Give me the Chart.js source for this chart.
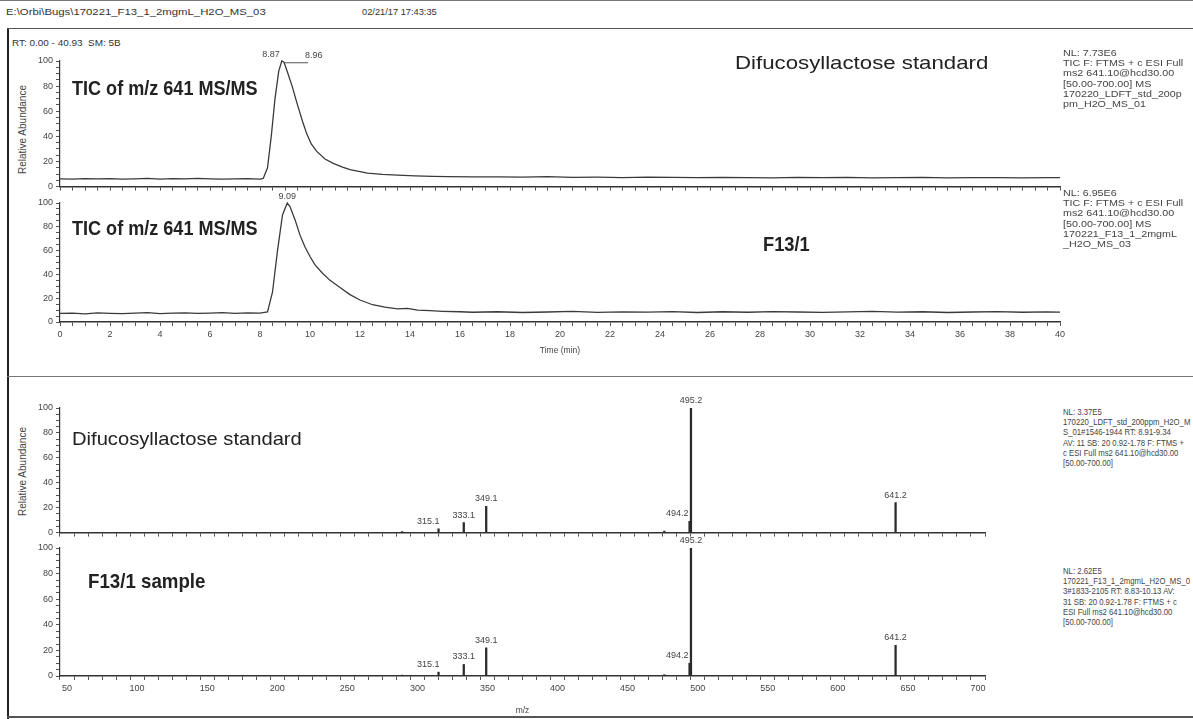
<!DOCTYPE html>
<html>
<head>
<meta charset="utf-8">
<script src="https://cdn.jsdelivr.net/npm/chart.js@4.4.1/dist/chart.umd.min.js"></script>
<style>
  html, body { margin: 0; padding: 0; background: #fff; }
  body { width: 1193px; height: 719px; position: relative; overflow: hidden;
         font-family: "Liberation Sans", Arial, sans-serif; color: #333; }
  canvas { position: absolute; left: 0; }
  .t { position: absolute; white-space: nowrap; line-height: 1; transform-origin: 0 0; }
  .info { position: absolute; left: 1063px; font-size: 9.5px; line-height: 10.2px; color: #444;
          white-space: nowrap; transform-origin: 0 0; }
  .bignote { font-weight: bold; color: #222; }
  .note { color: #222; }
  .rule { position: absolute; background: #222; }
  .ylab { position: absolute; font-size: 10px; color: #444; transform: rotate(-90deg); transform-origin: center; white-space: nowrap; }
</style>
</head>
<body>

<!-- frame and header -->
<div class="rule" style="left:0;top:0;width:1193px;height:1px;background:#777"></div>
<div class="rule" style="left:7px;top:28px;width:2px;height:691px"></div>
<div class="rule" style="left:7px;top:28px;width:1186px;height:1px;background:#555"></div>
<div class="rule" style="left:7px;top:376px;width:1186px;height:1px;background:#777"></div>
<div class="rule" style="left:7px;top:716px;width:1186px;height:2px;background:#555"></div>

<div class="t" style="left:6px;top:8px;font-size:9px;transform:scaleX(1.26)">E:\Orbi\Bugs\170221_F13_1_2mgmL_H2O_MS_03</div>
<div class="t" style="left:362px;top:8px;font-size:9px;transform:scaleX(1.03)">02/21/17 17:43:35</div>
<div class="t" style="left:12px;top:39px;font-size:8.5px;transform:scaleX(1.17)">RT: 0.00 - 40.93&nbsp;&nbsp;SM: 5B</div>

<div class="ylab" style="left:-28px;top:124px;width:100px;text-align:center">Relative Abundance</div>
<div class="ylab" style="left:-28px;top:466px;width:100px;text-align:center">Relative Abundance</div>

<canvas id="ticStd" width="1070" height="155" style="top:40px"></canvas>
<canvas id="ticSmp" width="1070" height="166" style="top:190px"></canvas>
<canvas id="msStd" width="995" height="156" style="top:385px"></canvas>
<canvas id="msSmp" width="995" height="186" style="top:530px"></canvas>

<!-- panel notes -->
<div class="t bignote" style="left:72px;top:77px;font-size:21px;transform:scaleX(0.86)">TIC of m/z 641 MS/MS</div>
<div class="t note" style="left:735px;top:53px;font-size:19px;transform:scaleX(1.17)">Difucosyllactose standard</div>
<div class="t bignote" style="left:72px;top:217px;font-size:21px;transform:scaleX(0.86)">TIC of m/z 641 MS/MS</div>
<div class="t bignote" style="left:763px;top:233px;font-size:21px;transform:scaleX(0.87)">F13/1</div>
<div class="t note" style="left:72px;top:430px;font-size:18.5px;transform:scaleX(1.09)">Difucosyllactose standard</div>
<div class="t bignote" style="left:88px;top:570px;font-size:21px;transform:scaleX(0.89)">F13/1 sample</div>

<!-- scan headers -->
<div class="info" style="top:48px;transform:scaleX(1.13)">NL: 7.73E6<br>TIC F: FTMS + c ESI Full<br>ms2 641.10@hcd30.00<br>[50.00-700.00] MS<br>170220_LDFT_std_200p<br>pm_H2O_MS_01</div>
<div class="info" style="top:188px;transform:scaleX(1.13)">NL: 6.95E6<br>TIC F: FTMS + c ESI Full<br>ms2 641.10@hcd30.00<br>[50.00-700.00] MS<br>170221_F13_1_2mgmL<br>_H2O_MS_03</div>
<div class="info" style="top:407px;font-size:9px;transform:scaleX(0.86)">NL: 3.37E5<br>170220_LDFT_std_200ppm_H2O_M<br>S_01#1546-1944 RT: 8.91-9.34<br>AV: 11 SB: 20 0.92-1.78 F: FTMS +<br>c ESI Full ms2 641.10@hcd30.00<br>[50.00-700.00]</div>
<div class="info" style="top:566px;font-size:9px;transform:scaleX(0.86)">NL: 2.62E5<br>170221_F13_1_2mgmL_H2O_MS_0<br>3#1833-2105 RT: 8.83-10.13 AV:<br>31 SB: 20 0.92-1.78 F: FTMS + c<br>ESI Full ms2 641.10@hcd30.00<br>[50.00-700.00]</div>

<script>
// ---- chromatogram: TIC of m/z 641 MS/MS, retention time (min) vs relative abundance (%) ----
const stdTimes = [0,0.5,1,1.5,2,2.5,3,3.5,4,4.5,5,5.5,6,6.5,7,7.5,8,
  8.13,8.3,8.45,8.6,8.75,8.87,8.96,9.1,9.3,9.47,9.7,9.87,10.05,10.27,10.6,10.93,11.3,11.6,12,12.3,12.9,13.5,14.2,14.9,15.5,16.5,
  17.5,18.5,19.5,20.5,21.5,22.5,23.5,24.5,25.5,26.5,27.5,28.5,29.5,30.5,31.5,32.5,33.5,34.5,35.5,36.5,37.5,38.5,39.5,40];
const stdAbundance = [6.2,6.0,6.4,6.1,6.3,5.9,6.2,6.5,6.0,6.3,6.1,6.6,6.2,5.9,6.1,6.3,6.0,
  6.5,15,40,70,92,100,99,91,79,67,52,42,34,28,22,18.5,15.5,13.5,12,10.8,9.8,9.2,8.6,8.2,8.0,7.8,
  7.7,7.6,7.9,7.4,7.5,7.2,7.6,7.3,7.1,7.4,7.2,7.0,7.3,7.1,7.4,7.0,7.2,7.3,6.9,7.1,7.2,7.0,7.1,7.2];
const stdPeakTimes = [8.87, 8.96];

const smpTimes = [0,0.5,1,1.5,2,2.5,3,3.5,4,4.5,5,5.5,6,6.5,7,7.5,8,
  8.3,8.5,8.7,8.9,9.09,9.2,9.4,9.6,9.8,10,10.2,10.5,10.8,11.2,11.6,12,12.5,13,13.5,13.9,14.3,14.8,15.3,16,
  16.5,17.5,18.5,19.5,20.5,21.5,22.5,23.5,24.5,25.5,26.5,27.5,28.5,29.5,30.5,31.5,32.5,33.5,34.5,35.5,36.5,37.5,38.5,39.5,40];
const smpAbundance = [7.2,7.4,6.9,7.6,7.3,7.0,7.5,7.8,7.1,7.4,7.7,7.2,7.5,7.9,7.3,7.6,7.4,
  8.5,25,60,90,100,97,86,73,63,55,48,41,35,29,23,18.5,14.5,12.5,11,11.5,10,9.5,9,8.6,
  8.2,8.6,8.0,8.4,8.9,8.1,8.5,8.3,8.8,8.0,8.6,8.2,8.7,8.4,8.1,8.5,8.9,8.3,8.6,8.0,8.4,8.8,8.2,8.5,8.3];
const smpPeakTimes = [9.09];

const timeTickLabels = [0,2,4,6,8,10,12,14,16,18,20,22,24,26,28,30,32,34,36,38,40];

// ---- MS/MS spectra of m/z 641: fragment m/z vs relative abundance (%) ----
const stdMz = [289.1, 315.1, 333.1, 349.1, 476.2, 494.2, 495.2, 641.2];
const stdIntensity = [0.8, 3, 8, 21, 1.2, 9, 100, 24];
const smpMz = [289.1, 315.1, 333.1, 349.1, 476.2, 494.2, 495.2, 641.2];
const smpIntensity = [0.7, 3, 9, 22, 1.0, 10, 100, 24];
const labeledMz = [315.1, 333.1, 349.1, 494.2, 495.2, 641.2];
const mzTickLabels = [50,100,150,200,250,300,350,400,450,500,550,600,650,700];

const abundanceTickLabels = [0,20,40,60,80,100];

const FONT = '"Liberation Sans", Arial, sans-serif';
const INK = '#333';

// annotates peaks with their x value, optionally with a short leader line
const peakLabels = {
  id: 'peakLabels',
  afterDatasetsDraw(chart, args, opts) {
    const items = opts.items || [];
    const pts = chart.data.datasets[0].data;
    const {ctx} = chart;
    const xs = chart.scales.x, ys = chart.scales.y;
    ctx.save();
    ctx.font = (opts.size || 9) + 'px ' + FONT;
    ctx.fillStyle = '#444';
    ctx.strokeStyle = '#555';
    ctx.lineWidth = 1;
    ctx.textBaseline = 'bottom';
    items.forEach(it => {
      const p = pts.find(q => q.x === it.x);
      if (!p) return;
      const px = xs.getPixelForValue(p.x);
      const py = ys.getPixelForValue(p.y);
      const dx = it.dx || 0;
      if (it.leader) {
        ctx.beginPath();
        ctx.moveTo(px, py + 0.5);
        ctx.lineTo(px + dx + 3, py + 0.5);
        ctx.stroke();
      }
      ctx.textAlign = it.align || 'center';
      ctx.fillText(p.x.toFixed(it.digits), px + dx, py - (it.gap ?? 2));
    });
    ctx.restore();
  }
};

function yScale() {
  return {
    min: 0, max: 100,
    afterFit: s => { s.width = 60; },
    border: { display: true, color: INK, width: 1.2 },
    grid: { display: true, drawOnChartArea: false, drawTicks: true, tickLength: 4, color: '#555' },
    ticks: {
      stepSize: 5, autoSkip: false, padding: 3, color: '#444',
      font: { family: FONT, size: 9 },
      callback: v => abundanceTickLabels.includes(v) ? String(v) : ''
    }
  };
}

function xScale(min, max, step, labels, showLabels, height, title) {
  return {
    type: 'linear', min, max,
    afterFit: s => { s.height = height; },
    border: { display: true, color: INK, width: 1.5 },
    grid: { display: true, drawOnChartArea: false, drawTicks: true, tickLength: 4, color: '#555' },
    ticks: {
      stepSize: step, autoSkip: false, maxRotation: 0, padding: 3, color: '#444',
      font: { family: FONT, size: 9 },
      callback: v => (showLabels && labels.includes(v)) ? String(v) : ''
    },
    title: title ? { display: true, text: title, color: '#444', padding: 0, font: { family: FONT, size: 8.5 } } : { display: false }
  };
}

function baseOptions(padTop, padRight, x, labelItems) {
  return {
    responsive: false, animation: false, events: [],
    layout: { padding: { top: padTop, right: padRight, left: 0, bottom: 0 } },
    plugins: { legend: { display: false }, tooltip: { enabled: false }, peakLabels: { items: labelItems } },
    scales: { x, y: yScale() }
  };
}

function ticChart(id, times, values, peaks, padTop, showLabels, axisHeight, title) {
  // a pair of close apexes: first label ends at its apex, second is pushed right on a leader
  const items = peaks.map((t, i) => peaks.length > 1
    ? (i === 0 ? { x: t, digits: 2, dx: -2, align: 'right' } : { x: t, digits: 2, dx: 21, align: 'left', leader: true })
    : { x: t, digits: 2, dx: 0 });
  new Chart(document.getElementById(id), {
    type: 'line',
    data: { datasets: [{
      data: times.map((t, i) => ({ x: t, y: values[i] })),
      borderColor: '#3a3a3a', borderWidth: 1.3, pointRadius: 0, tension: 0, fill: false, clip: 3
    }] },
    options: baseOptions(padTop, 10, xScale(0, 40, 0.5, timeTickLabels, showLabels, axisHeight, title), items),
    plugins: [peakLabels]
  });
}

function msChart(id, mz, intensity, padTop, showLabels, axisHeight, title) {
  new Chart(document.getElementById(id), {
    type: 'bar',
    data: { datasets: [{
      data: mz.map((m, i) => ({ x: m, y: intensity[i] })),
      backgroundColor: '#2a2a2a', barThickness: 1.6, grouped: false
    }] },
    options: baseOptions(padTop, 10, xScale(50, 700, 10, mzTickLabels, showLabels, axisHeight, title),
      labeledMz.map(m => ({
        x: m, digits: 1, gap: 3,
        align: (m === 494.2 || m === 315.1) ? 'right' : 'center',
        dx: m === 494.2 ? -1 : (m === 315.1 ? 1 : 0)
      }))),
    plugins: [peakLabels]
  });
}

ticChart('ticStd', stdTimes, stdAbundance, stdPeakTimes, 21, false, 6, null);
ticChart('ticSmp', smpTimes, smpAbundance, smpPeakTimes, 13, true, 34, 'Time (min)');
msChart('msStd', stdMz, stdIntensity, 23, false, 6, null);
msChart('msSmp', smpMz, smpIntensity, 18, true, 40, 'm/z');
</script>
</body>
</html>
